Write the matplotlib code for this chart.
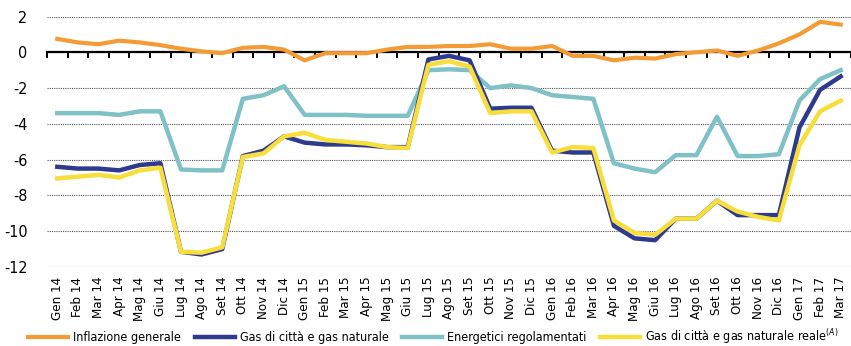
import matplotlib.pyplot as plt
import numpy as np

plt.rcParams['font.family'] = ['DejaVu Sans']
plt.rcParams['font.stretch'] = 'condensed'

mesi = ['Gen 14', 'Feb 14', 'Mar 14', 'Apr 14', 'Mag 14', 'Giu 14', 'Lug 14', 'Ago 14', 'Set 14',
        'Ott 14', 'Nov 14', 'Dic 14',
        'Gen 15', 'Feb 15', 'Mar 15', 'Apr 15', 'Mag 15', 'Giu 15', 'Lug 15', 'Ago 15', 'Set 15',
        'Ott 15', 'Nov 15', 'Dic 15',
        'Gen 16', 'Feb 16', 'Mar 16', 'Apr 16', 'Mag 16', 'Giu 16', 'Lug 16', 'Ago 16', 'Set 16',
        'Ott 16', 'Nov 16', 'Dic 16',
        'Gen 17', 'Feb 17', 'Mar 17']

inflazione = [0.75, 0.55, 0.45, 0.65, 0.55, 0.4, 0.2, 0.05, -0.05, 0.25, 0.3, 0.15,
              -0.45, -0.05, -0.05, -0.05, 0.15, 0.3, 0.3, 0.35, 0.35, 0.45, 0.2, 0.2,
              0.35, -0.2, -0.2, -0.45, -0.3, -0.35, -0.1, 0.0, 0.1, -0.2, 0.1, 0.5,
              1.0, 1.7, 1.55]

gas = [-6.4, -6.5, -6.5, -6.6, -6.3, -6.2, -11.15, -11.3, -11.0, -5.8, -5.5, -4.7,
       -5.05, -5.15, -5.15, -5.2, -5.3, -5.3, -0.4, -0.2, -0.45, -3.15, -3.1, -3.1,
       -5.5, -5.6, -5.6, -9.7, -10.4, -10.5, -9.3, -9.3, -8.3, -9.1, -9.1, -9.1,
       -4.2, -2.1, -1.35]

energetici = [-3.4, -3.4, -3.4, -3.5, -3.3, -3.3, -6.55, -6.6, -6.6, -2.6, -2.4, -1.9,
              -3.5, -3.5, -3.5, -3.55, -3.55, -3.55, -1.0, -0.95, -1.0, -2.0, -1.85, -2.0,
              -2.4, -2.5, -2.6, -6.2, -6.5, -6.7, -5.75, -5.75, -3.6, -5.8, -5.8, -5.7,
              -2.7, -1.5, -1.0]

gas_reale = [-7.05, -6.95, -6.85, -7.0, -6.6, -6.45, -11.15, -11.2, -10.9, -5.85, -5.65, -4.7,
             -4.5, -4.9, -5.0, -5.1, -5.3, -5.35, -0.7, -0.5, -0.8, -3.4, -3.3, -3.3,
             -5.6, -5.3, -5.35, -9.4, -10.1, -10.2, -9.3, -9.3, -8.3, -8.9, -9.2, -9.4,
             -5.2, -3.3, -2.7]

c_orange = '#F39B34'
c_blue = '#2E3A8E'
c_teal = '#7FC1C6'
c_yellow = '#F8DE3A'

x = np.arange(len(mesi))

fig = plt.figure(figsize=(8.51, 3.46), dpi=100)
ax = fig.add_axes([47 / 851, 1 - 267 / 346, 1 - 47 / 851, (267 - 16.5) / 346])

l1, = ax.plot(x, inflazione, color=c_orange, lw=3.0, label='Inflazione generale', zorder=3)
l3, = ax.plot(x, energetici, color=c_teal, lw=3.2, label='Energetici regolamentati', zorder=3)
l2, = ax.plot(x, gas, color=c_blue, lw=3.2, label='Gas di città e gas naturale', zorder=4)
l4, = ax.plot(x, gas_reale, color=c_yellow, lw=3.2, label='Gas di città e gas naturale reale$^{(A)}$', zorder=5)

ax.set_xlim(-0.5, len(mesi) - 0.5)
ax.set_ylim(-12, 2)

# dotted grid
ax.set_yticks(np.arange(-12, 3, 2))
ax.set_yticklabels([str(v) for v in range(-12, 3, 2)], fontsize=11.5)
ax.tick_params(axis='y', length=0, pad=14)
ax.yaxis.grid(True, linestyle=(0, (1, 1)), color='#555555', lw=0.8, zorder=1)

for s in ['left', 'right', 'top']:
    ax.spines[s].set_visible(False)

# zero line with ticks at month boundaries
ax.spines['bottom'].set_position(('data', 0))
ax.spines['bottom'].set_linewidth(1.6)
ax.spines['bottom'].set_zorder(2)
ax.set_xticks(np.arange(-0.5, len(mesi), 1.0))
ax.tick_params(axis='x', direction='out', length=4, width=1.4, labelbottom=False)

# month labels at bottom
sec = ax.secondary_xaxis('bottom')
sec.set_xticks(x, labels=mesi, rotation=90, fontsize=9.5)
sec.tick_params(length=0, pad=7)
sec.spines['bottom'].set_visible(False)

fig.legend(handles=[l1, l2, l3, l4], loc='center left', bbox_to_anchor=(28 / 851, 9 / 346),
           ncol=4, frameon=False, fontsize=9, handlelength=3.2, handletextpad=0.4,
           columnspacing=1.1, borderaxespad=0, borderpad=0)

fig.savefig('out.png', dpi=100)
